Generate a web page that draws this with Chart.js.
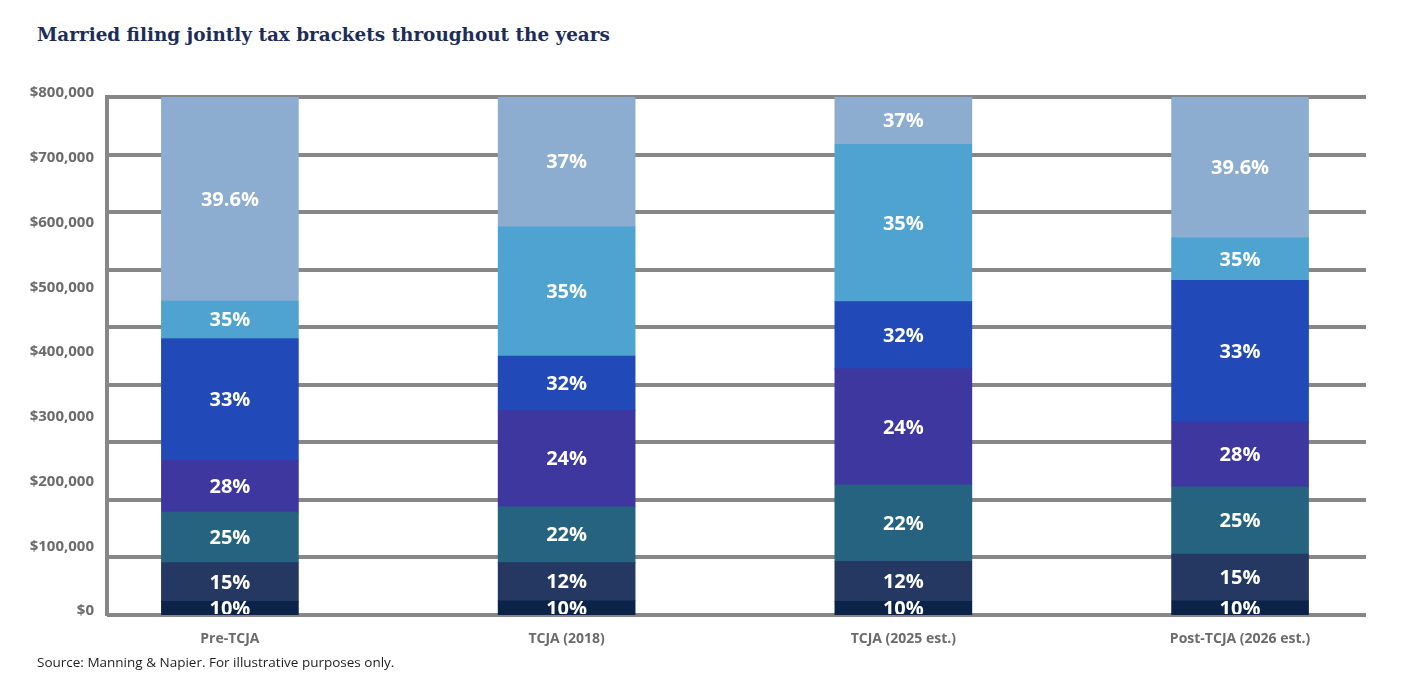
<!DOCTYPE html>
<html>
<head>
<meta charset="utf-8">
<script src="https://cdn.jsdelivr.net/npm/chart.js@4.4.1/dist/chart.umd.min.js"></script>
<style>
  body { margin: 0; background: #fff; }
  #wrap { position: relative; width: 1425px; height: 675px; }
  #chart { position: absolute; left: 0; top: 0; }
  #title {
    position: absolute; left: 37px; top: 23px;
    font-family: "DejaVu Serif", serif; font-weight: bold;
    font-size: 18.4px; line-height: 24px; color: #1c2d5a; white-space: nowrap;
  }
  #source {
    position: absolute; left: 37px; top: 653px;
    font-family: "Open Sans", sans-serif; font-size: 13.5px; line-height: 18px; color: #1e1e1e;
  }
</style>
</head>
<body>
<div id="wrap">
  <div id="title">Married filing jointly tax brackets throughout the years</div>
  <canvas id="chart" width="1425" height="675"></canvas>
  <div id="source">Source: Manning &amp; Napier. For illustrative purposes only.</div>
</div>
<script>
// categories on the x axis
let categories = ['Pre-TCJA', 'TCJA (2018)', 'TCJA (2025 est.)', 'Post-TCJA (2026 est.)'];

// rate shown in each layer of the stack, bottom to top, one entry per category
let layer1Rates = ['10%', '10%', '10%', '10%'];
let layer2Rates = ['15%', '12%', '12%', '15%'];
let layer3Rates = ['25%', '22%', '22%', '25%'];
let layer4Rates = ['28%', '24%', '24%', '28%'];
let layer5Rates = ['33%', '32%', '32%', '33%'];
let layer6Rates = ['35%', '35%', '35%', '35%'];
let layer7Rates = ['39.6%', '37%', '37%', '39.6%'];

// upper income limit of each bracket (top bracket runs off the chart at $800,000)
let preTcjaTops   = [21000, 81000, 159000, 239000, 427000, 485000, 800000];
let tcja2018Tops  = [22000, 81000, 167000, 316000, 400000, 600000, 800000];
let tcja2025Tops  = [21000, 83000, 201000, 380000, 484000, 727000, 800000];
let postTcjaTops  = [22000, 94000, 198000, 298000, 517000, 583000, 800000];

// y axis tick labels
let yTicks = [0, 100000, 200000, 300000, 400000, 500000, 600000, 700000, 800000];

let layerColors = ['#0b2249', '#243862', '#256380', '#3e37a0', '#2149b8', '#4ea3d1', '#8cadd0'];

let rateLabels = [layer1Rates, layer2Rates, layer3Rates, layer4Rates, layer5Rates, layer6Rates, layer7Rates];
let allTops = [preTcjaTops, tcja2018Tops, tcja2025Tops, postTcjaTops];

// bracket widths from the limits
let widths = allTops.map(tops => tops.map((t, i) => t - (i ? tops[i - 1] : 0)));

let datasets = rateLabels.map((rates, i) => ({
    label: 'Bracket ' + (i + 1),
    data: categories.map((c, j) => ({ x: j, y: widths[j][i] })),
    backgroundColor: layerColors[i],
    borderWidth: 0,
    barThickness: 137,
    yAxisID: 'y'
}));

let gray = '#878787';

let barLabels = {
    id: 'barLabels',
    afterDatasetsDraw(chart) {
        let ctx = chart.ctx;
        let area = chart.chartArea;
        ctx.save();
        ctx.beginPath();
        ctx.rect(area.left, area.top, area.right - area.left, area.bottom - area.top - 1);
        ctx.clip();
        ctx.fillStyle = '#ffffff';
        ctx.font = 'bold 20px "Open Sans"';
        ctx.textAlign = 'center';
        ctx.textBaseline = 'middle';
        chart.data.datasets.forEach((ds, i) => {
            chart.getDatasetMeta(i).data.forEach((bar, j) => {
                ctx.fillText(rateLabels[i][j], bar.x, (bar.y + bar.base) / 2 + 1);
            });
        });
        ctx.restore();
    }
};

let ctx = document.getElementById('chart').getContext('2d');
let myChart = new Chart(ctx, {
    type: 'bar',
    data: { datasets: datasets },
    plugins: [barLabels],
    options: {
        responsive: false,
        animation: false,
        layout: { padding: { top: 97, right: 59, bottom: 0, left: 0 } },
        plugins: { legend: { display: false }, tooltip: { enabled: false } },
        scales: {
            x: {
                type: 'linear',
                stacked: true,
                offset: false,
                bounds: 'data',
                min: -0.365,
                max: 3.374,
                grid: { display: false, drawTicks: false, offset: false },
                border: { display: false },
                afterBuildTicks: s => { s.ticks = categories.map((c, i) => ({ value: i })); },
                afterFit: s => { s.height = 60; },
                ticks: {
                    autoSkip: false,
                    maxRotation: 0,
                    padding: 16,
                    color: '#6b6b6b',
                    font: { family: 'Open Sans', weight: 'bold', size: 14 },
                    callback: v => categories[v]
                }
            },
            y: {
                stacked: true,
                min: 0,
                max: 800000,
                position: 'left',
                afterBuildTicks: s => { s.ticks = yTicks.map(v => ({ value: v })); },
                afterFit: s => { s.width = 107; },
                grid: { display: false, drawTicks: false },
                border: { display: true, color: gray, width: 4 },
                ticks: {
                    padding: 13,
                    labelOffset: -4,
                    color: '#6b6b6b',
                    font: { family: 'Open Sans', weight: 'bold', size: 15 },
                    callback: v => '$' + v.toLocaleString('en-US')
                }
            },
            yGrid: {
                type: 'linear',
                position: 'right',
                min: 0,
                max: 9,
                afterFit: s => { s.width = 0; },
                ticks: { display: false, stepSize: 1 },
                grid: { color: gray, lineWidth: 4, drawTicks: false },
                border: { display: false }
            }
        }
    }
});
</script>
</body>
</html>
